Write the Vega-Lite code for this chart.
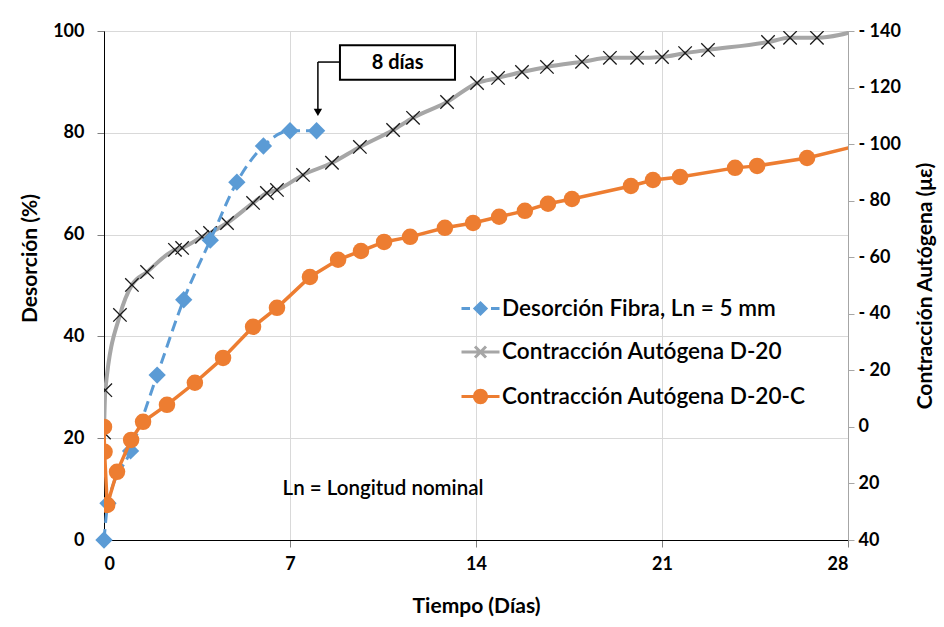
{
  "$schema": "https://vega.github.io/schema/vega-lite/v6.json",
  "width": 744,
  "height": 509,
  "autosize": {"type": "none"},
  "padding": {"left": 104, "top": 31, "right": 96, "bottom": 87},
  "background": "white",
  "config": {
    "font": "Lato",
    "view": {"stroke": "#000000", "strokeWidth": 1},
    "axis": {"labelFont": "Lato", "labelFontWeight": "bold", "labelFontSize": 18, "labelColor": "#000000", "titleFont": "Lato", "titleFontWeight": "bold", "titleFontSize": 21, "titleColor": "#000000", "gridColor": "#d9d9d9", "gridWidth": 1, "tickColor": "#7f7f7f", "tickSize": 7, "domainColor": "#000000"},
    "text": {"font": "Lato"}
  },
  "datasets": {
    "d": [
      {"serie": "Desorción Fibra, Ln = 5 mm", "dia": 0, "valor": 0},
      {"serie": "Desorción Fibra, Ln = 5 mm", "dia": 0.15, "valor": 7.2},
      {"serie": "Desorción Fibra, Ln = 5 mm", "dia": 1, "valor": 17.5},
      {"serie": "Desorción Fibra, Ln = 5 mm", "dia": 2, "valor": 32.4},
      {"serie": "Desorción Fibra, Ln = 5 mm", "dia": 3, "valor": 47.2},
      {"serie": "Desorción Fibra, Ln = 5 mm", "dia": 4, "valor": 58.9},
      {"serie": "Desorción Fibra, Ln = 5 mm", "dia": 5, "valor": 70.3},
      {"serie": "Desorción Fibra, Ln = 5 mm", "dia": 6, "valor": 77.4},
      {"serie": "Desorción Fibra, Ln = 5 mm", "dia": 7, "valor": 80.4},
      {"serie": "Desorción Fibra, Ln = 5 mm", "dia": 8, "valor": 80.4},
      {"serie": "Contracción Autógena D-20", "dia": 0, "valor": -2},
      {"serie": "Contracción Autógena D-20", "dia": 0.05, "valor": 13},
      {"serie": "Contracción Autógena D-20", "dia": 0.6, "valor": 39.6},
      {"serie": "Contracción Autógena D-20", "dia": 1.05, "valor": 50.2},
      {"serie": "Contracción Autógena D-20", "dia": 1.62, "valor": 54.8},
      {"serie": "Contracción Autógena D-20", "dia": 2.67, "valor": 62.6},
      {"serie": "Contracción Autógena D-20", "dia": 2.94, "valor": 63.3},
      {"serie": "Contracción Autógena D-20", "dia": 3.69, "valor": 67.2},
      {"serie": "Contracción Autógena D-20", "dia": 3.99, "valor": 68.6},
      {"serie": "Contracción Autógena D-20", "dia": 4.63, "valor": 72.1},
      {"serie": "Contracción Autógena D-20", "dia": 5.61, "valor": 79.2},
      {"serie": "Contracción Autógena D-20", "dia": 6.13, "valor": 82.7},
      {"serie": "Contracción Autógena D-20", "dia": 6.51, "valor": 83.8},
      {"serie": "Contracción Autógena D-20", "dia": 7.49, "valor": 89.1},
      {"serie": "Contracción Autógena D-20", "dia": 8.58, "valor": 93.4},
      {"serie": "Contracción Autógena D-20", "dia": 9.63, "valor": 99.0},
      {"serie": "Contracción Autógena D-20", "dia": 10.88, "valor": 105.0},
      {"serie": "Contracción Autógena D-20", "dia": 11.63, "valor": 109.3},
      {"serie": "Contracción Autógena D-20", "dia": 12.91, "valor": 114.9},
      {"serie": "Contracción Autógena D-20", "dia": 14.04, "valor": 121.6},
      {"serie": "Contracción Autógena D-20", "dia": 14.83, "valor": 123.4},
      {"serie": "Contracción Autógena D-20", "dia": 15.73, "valor": 125.5},
      {"serie": "Contracción Autógena D-20", "dia": 16.67, "valor": 127.3},
      {"serie": "Contracción Autógena D-20", "dia": 17.99, "valor": 129.1},
      {"serie": "Contracción Autógena D-20", "dia": 19.04, "valor": 130.5},
      {"serie": "Contracción Autógena D-20", "dia": 20.06, "valor": 130.5},
      {"serie": "Contracción Autógena D-20", "dia": 21.0, "valor": 130.8},
      {"serie": "Contracción Autógena D-20", "dia": 21.87, "valor": 132.2},
      {"serie": "Contracción Autógena D-20", "dia": 22.73, "valor": 133.3},
      {"serie": "Contracción Autógena D-20", "dia": 24.99, "valor": 136.1},
      {"serie": "Contracción Autógena D-20", "dia": 25.82, "valor": 137.6},
      {"serie": "Contracción Autógena D-20", "dia": 26.83, "valor": 137.6},
      {"serie": "Contracción Autógena D-20", "dia": 28.5, "valor": 140.6},
      {"serie": "Contracción Autógena D-20-C", "dia": 0, "valor": 0},
      {"serie": "Contracción Autógena D-20-C", "dia": 0.02, "valor": -8.8},
      {"serie": "Contracción Autógena D-20-C", "dia": 0.12, "valor": -27.6},
      {"serie": "Contracción Autógena D-20-C", "dia": 0.49, "valor": -15.9},
      {"serie": "Contracción Autógena D-20-C", "dia": 1.02, "valor": -4.6},
      {"serie": "Contracción Autógena D-20-C", "dia": 1.47, "valor": 1.8},
      {"serie": "Contracción Autógena D-20-C", "dia": 2.37, "valor": 7.8},
      {"serie": "Contracción Autógena D-20-C", "dia": 3.42, "valor": 15.6},
      {"serie": "Contracción Autógena D-20-C", "dia": 4.48, "valor": 24.4},
      {"serie": "Contracción Autógena D-20-C", "dia": 5.61, "valor": 35.4},
      {"serie": "Contracción Autógena D-20-C", "dia": 6.51, "valor": 42.1},
      {"serie": "Contracción Autógena D-20-C", "dia": 7.75, "valor": 53.0},
      {"serie": "Contracción Autógena D-20-C", "dia": 8.81, "valor": 59.1},
      {"serie": "Contracción Autógena D-20-C", "dia": 9.67, "valor": 62.2},
      {"serie": "Contracción Autógena D-20-C", "dia": 10.54, "valor": 65.4},
      {"serie": "Contracción Autógena D-20-C", "dia": 11.52, "valor": 67.2},
      {"serie": "Contracción Autógena D-20-C", "dia": 12.83, "valor": 70.4},
      {"serie": "Contracción Autógena D-20-C", "dia": 13.89, "valor": 72.1},
      {"serie": "Contracción Autógena D-20-C", "dia": 14.87, "valor": 74.3},
      {"serie": "Contracción Autógena D-20-C", "dia": 15.84, "valor": 76.4},
      {"serie": "Contracción Autógena D-20-C", "dia": 16.71, "valor": 78.9},
      {"serie": "Contracción Autógena D-20-C", "dia": 17.61, "valor": 80.6},
      {"serie": "Contracción Autógena D-20-C", "dia": 19.83, "valor": 85.2},
      {"serie": "Contracción Autógena D-20-C", "dia": 20.66, "valor": 87.3},
      {"serie": "Contracción Autógena D-20-C", "dia": 21.68, "valor": 88.4},
      {"serie": "Contracción Autógena D-20-C", "dia": 23.75, "valor": 91.6},
      {"serie": "Contracción Autógena D-20-C", "dia": 24.58, "valor": 92.3},
      {"serie": "Contracción Autógena D-20-C", "dia": 26.46, "valor": 95.1},
      {"serie": "Contracción Autógena D-20-C", "dia": 28.5, "valor": 99.8}
    ]
  },
  "encoding": {
    "x": {"field": "dia", "type": "quantitative", "scale": {"domain": [0, 28], "nice": false}, "axis": {"title": "Tiempo (Días)", "values": [0, 7, 14, 21, 28], "grid": true, "labelAngle": 0, "labelPadding": 8, "titleY": 66, "titleBaseline": "middle"}}
  },
  "layer": [
    {
      "data": {"name": "d"},
      "transform": [{"filter": "datum.serie === 'Contracción Autógena D-20'"}],
      "encoding": {"y": {"field": "valor", "type": "quantitative", "scale": {"domain": [-40, 140], "nice": false}, "axis": null}},
      "layer": [
        {"mark": {"type": "line", "color": "#a6a6a6", "strokeWidth": 4, "interpolate": "monotone", "clip": true}},
        {"mark": {"type": "point", "shape": "M-1,-1L1,1M1,-1L-1,1", "filled": false, "stroke": "#1a1a1a", "strokeWidth": 1.3, "size": 180, "opacity": 1, "clip": true}}
      ]
    },
    {
      "data": {"name": "d"},
      "layer": [
        {
          "transform": [{"filter": "datum.serie === 'Desorción Fibra, Ln = 5 mm'"}],
          "mark": {"type": "line", "color": "#5b9bd5", "strokeWidth": 3, "strokeDash": [11, 6], "interpolate": "monotone"},
          "encoding": {"y": {"field": "valor", "type": "quantitative", "scale": {"domain": [0, 100], "nice": false}, "axis": {"orient": "left", "title": "Desorción (%)", "values": [0, 20, 40, 60, 80, 100], "grid": true, "labelPadding": 13, "titleX": -74, "titleY": 227, "titleAngle": 270, "titleAlign": "center", "titleBaseline": "middle"}}}
        },
        {
          "transform": [{"filter": "datum.serie === 'Desorción Fibra, Ln = 5 mm'"}],
          "mark": {"type": "point", "shape": "diamond", "filled": true, "color": "#5b9bd5", "size": 300, "opacity": 1},
          "encoding": {"y": {"field": "valor", "type": "quantitative"}}
        },
        {
          "transform": [{"filter": "datum.dia === 0"}],
          "mark": {"type": "point", "opacity": 0},
          "encoding": {
            "y": {"field": "valor", "type": "quantitative"},
            "fill": {"field": "serie", "type": "nominal", "scale": {"domain": ["Desorción Fibra, Ln = 5 mm", "Contracción Autógena D-20", "Contracción Autógena D-20-C"], "range": ["#5b9bd5", "#a6a6a6", "#ed7d31"]}, "legend": {"title": null, "orient": "none", "legendX": 365, "legendY": 266, "symbolSize": 400, "symbolStrokeWidth": 3, "symbolOpacity": 1, "labelFont": "Lato", "labelFontSize": 22.6, "labelFontWeight": 600, "labelColor": "#000000", "labelOffset": 10, "rowPadding": 19.5, "labelLimit": 0}},
            "stroke": {"field": "serie", "type": "nominal", "scale": {"domain": ["Desorción Fibra, Ln = 5 mm", "Contracción Autógena D-20", "Contracción Autógena D-20-C"], "range": ["#5b9bd5", "#a6a6a6", "#ed7d31"]}, "legend": {"title": null, "orient": "none", "legendX": 365, "legendY": 266, "symbolSize": 400, "symbolStrokeWidth": 3, "symbolOpacity": 1, "labelFont": "Lato", "labelFontSize": 22.6, "labelFontWeight": 600, "labelColor": "#000000", "labelOffset": 10, "rowPadding": 19.5, "labelLimit": 0}},
            "shape": {"field": "serie", "type": "nominal", "scale": {"domain": ["Desorción Fibra, Ln = 5 mm", "Contracción Autógena D-20", "Contracción Autógena D-20-C"], "range": ["M-1.9,0L-1.05,0M1.05,0L1.9,0M0,-0.55L0.55,0L0,0.55L-0.55,0Z", "M-1.9,0L1.9,0M-0.55,-0.55L0.55,0.55M0.55,-0.55L-0.55,0.55", "M-1.9,0L1.9,0M0.62,0A0.62,0.62,0,1,1,-0.62,0A0.62,0.62,0,1,1,0.62,0Z"]}, "legend": {"title": null, "orient": "none", "legendX": 365, "legendY": 266, "symbolSize": 400, "symbolStrokeWidth": 3, "symbolOpacity": 1, "labelFont": "Lato", "labelFontSize": 22.6, "labelFontWeight": 600, "labelColor": "#000000", "labelOffset": 10, "rowPadding": 19.5, "labelLimit": 0}}
          }
        },
        {
          "transform": [{"filter": "datum.dia === 8"}],
          "mark": {"type": "text", "text": "Ln = Longitud nominal", "font": "Lato", "fontSize": 20.5, "fontWeight": 600, "color": "#000000", "align": "center", "baseline": "middle"},
          "encoding": {"x": {"datum": 10.5, "type": "quantitative"}, "y": {"datum": 10, "type": "quantitative"}}
        },
        {
          "transform": [{"filter": "datum.dia === 8"}],
          "mark": {"type": "rect", "fill": "#ffffff", "stroke": "#000000", "strokeWidth": 2},
          "encoding": {"x": {"datum": 8.88, "type": "quantitative"}, "x2": {"datum": 13.21}, "y": {"datum": 97.2, "type": "quantitative"}, "y2": {"datum": 90.4}}
        },
        {
          "transform": [{"filter": "datum.dia === 8"}],
          "mark": {"type": "text", "text": "8 días", "font": "Lato", "fontSize": 20, "fontWeight": "bold", "color": "#000000", "align": "center", "baseline": "middle"},
          "encoding": {"x": {"datum": 11.05, "type": "quantitative"}, "y": {"datum": 93.8, "type": "quantitative"}}
        },
        {
          "transform": [{"filter": "datum.dia === 8"}],
          "mark": {"type": "rule", "color": "#000000", "strokeWidth": 1.5},
          "encoding": {"x": {"datum": 8.05, "type": "quantitative"}, "x2": {"datum": 8.88}, "y": {"datum": 93.9, "type": "quantitative"}}
        },
        {
          "transform": [{"filter": "datum.dia === 8"}],
          "mark": {"type": "rule", "color": "#000000", "strokeWidth": 1.5},
          "encoding": {"x": {"datum": 8.05, "type": "quantitative"}, "y": {"datum": 93.9, "type": "quantitative"}, "y2": {"datum": 84.5}}
        },
        {
          "transform": [{"filter": "datum.dia === 8"}],
          "mark": {"type": "point", "shape": "triangle-down", "filled": true, "color": "#000000", "size": 70, "opacity": 1},
          "encoding": {"x": {"datum": 8.05, "type": "quantitative"}, "y": {"datum": 84.0, "type": "quantitative"}}
        }
      ]
    },
    {
      "data": {"name": "d"},
      "transform": [{"filter": "datum.serie === 'Contracción Autógena D-20-C'"}],
      "encoding": {"y": {"field": "valor", "type": "quantitative", "scale": {"domain": [-40, 140], "nice": false}, "axis": {"orient": "right", "title": "Contracción Autógena (με)", "values": [-40, -20, 0, 20, 40, 60, 80, 100, 120, 140], "grid": false, "domainColor": "#a6a6a6", "tickColor": "#a6a6a6", "tickSize": 6, "labelPadding": 4, "labelAlign": "left", "labelExpr": "datum.value > 0 ? '- ' + datum.value : '\u2002' + abs(datum.value)", "titleX": 77, "titleY": 254.5, "titleAngle": 270, "titleAlign": "center", "titleBaseline": "middle"}}},
      "layer": [
        {"mark": {"type": "line", "color": "#ed7d31", "strokeWidth": 3.5, "clip": true}},
        {"mark": {"type": "point", "shape": "circle", "filled": true, "color": "#ed7d31", "size": 272, "opacity": 1, "clip": true}}
      ]
    }
  ],
  "resolve": {"scale": {"y": "independent"}}
}
